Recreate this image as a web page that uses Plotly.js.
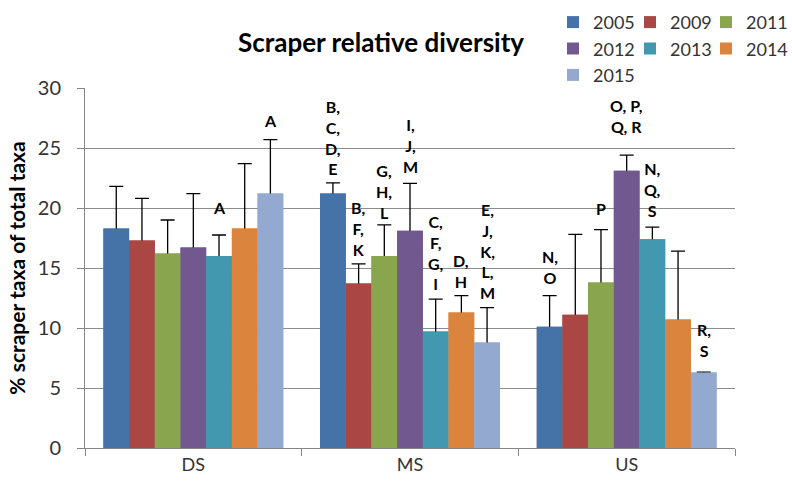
<!DOCTYPE html>
<html>
<head>
<meta charset="utf-8">
<script src="https://cdn.plot.ly/plotly-3.0.1.min.js"></script>
<style>html,body{margin:0;padding:0;background:#fff;}#chart{width:792px;height:487px;}</style>
</head>
<body>
<div id="chart"></div>
<script>
// ---- data ----
var categories = ['DS', 'MS', 'US'];
var years = ['2005', '2009', '2011', '2012', '2013', '2014', '2015'];
var v2005 = [18.3, 21.2, 10.1];
var v2009 = [17.3, 13.7, 11.1];
var v2011 = [16.2, 16.0, 13.8];
var v2012 = [16.7, 18.1, 23.1];
var v2013 = [16.0, 9.7, 17.4];
var v2014 = [18.3, 11.3, 10.7];
var v2015 = [21.2, 8.8, 6.3];
var e2005 = [3.5, 0.9, 2.6];
var e2009 = [3.5, 1.65, 6.7];
var e2011 = [2.8, 2.6, 4.4];
var e2012 = [4.5, 3.95, 1.3];
var e2013 = [1.75, 2.7, 1.0];
var e2014 = [5.4, 1.4, 5.7];
var e2015 = [4.5, 2.9, 0.02];
var l2005 = ['', 'B,<br>C,<br>D,<br>E', 'N,<br>O'];
var l2009 = ['', 'B,<br>F,<br>K', ''];
var l2011 = ['', 'G,<br>H,<br>L', 'P'];
var l2012 = ['', 'I,<br>J,<br>M', 'O, P,<br>Q, R'];
var l2013 = ['A', 'C,<br>F,<br>G,<br>I', 'N,<br>Q,<br>S'];
var l2014 = ['', 'D,<br>H', ''];
var l2015 = ['A', 'E,<br>J,<br>K,<br>L,<br>M', 'R,<br>S'];

// ---- styles / layout helpers ----
var values = [v2005, v2009, v2011, v2012, v2013, v2014, v2015];
var errors = [e2005, e2009, e2011, e2012, e2013, e2014, e2015];
var letters = [l2005, l2009, l2011, l2012, l2013, l2014, l2015];
var colors = ['#4572A7', '#AA4643', '#89A54E', '#71588F', '#4198AF', '#DB843D', '#93A9CF'];
var legendIds = ['legend', 'legend2', 'legend3', 'legend', 'legend2', 'legend3', 'legend'];
// extra pixel lift of each letter label above its error cap
var labelLift = [
  [0, 3, 7], [0, 3, 0], [0, 1, 10], [0, 5, 17], [16, 4, 5], [0, 3, 0], [8, 4, 10]
];
var bargap = 0.17;
var FONT = 'Lato, "Open Sans", sans-serif';

var traces = [];
years.forEach(function (yr, k) {
  traces.push({
    type: 'bar', name: yr, x: categories, y: values[k],
    xaxis: 'x', yaxis: 'y',
    marker: {color: colors[k], line: {width: 0}},
    legend: legendIds[k],
    error_y: {type: 'data', symmetric: false, array: errors[k],
      arrayminus: values[k].map(function () { return 0.15; }),
      color: '#000', thickness: 1.3, width: 7},
    hoverinfo: 'skip'
  });
});
// cover bars (overlay) hide the lower cap of the error bars
years.forEach(function (yr, k) {
  traces.push({
    type: 'bar', name: yr, x: categories, y: values[k],
    xaxis: 'x2', yaxis: 'y',
    marker: {color: colors[k], line: {width: 0}},
    showlegend: false, hoverinfo: 'skip'
  });
});

var nT = years.length;
var w = (1 - bargap) / nT;
var annotations = [];
years.forEach(function (yr, k) {
  categories.forEach(function (c, i) {
    var txt = letters[k][i];
    if (!txt) return;
    annotations.push({
      x: i - (1 - bargap) / 2 + w * (k + 0.5), xref: 'x',
      y: values[k][i] + errors[k][i], yref: 'y',
      text: txt, showarrow: false, xanchor: 'center', yanchor: 'bottom',
      yshift: labelLift[k][i],
      font: {family: FONT, size: 16, color: '#000', weight: 'bold'}
    });
  });
});

var legendBase = {
  orientation: 'v', xref: 'container', yref: 'container',
  xanchor: 'left', yanchor: 'top', y: 0.992,
  font: {family: FONT, size: 18, color: '#333'},
  bgcolor: 'rgba(0,0,0,0)', borderwidth: 0, itemwidth: 30
};
function legendAt(px) {
  var o = JSON.parse(JSON.stringify(legendBase));
  o.x = px / 792;
  return o;
}

var layout = {
  width: 792, height: 487,
  margin: {l: 85, r: 57, t: 88, b: 39, pad: 0, autoexpand: false},
  paper_bgcolor: '#fff', plot_bgcolor: '#fff',
  font: {family: FONT, color: '#333'},
  barmode: 'group', bargap: bargap, bargroupgap: 0,
  showlegend: true,
  title: {
    text: '<b>Scraper relative diversity</b>',
    font: {family: FONT, size: 26, color: '#000'},
    x: 381 / 792, xref: 'container', xanchor: 'center',
    y: 1 - 43 / 487, yref: 'container', yanchor: 'middle'
  },
  xaxis: {
    type: 'category', range: [-0.5, 2.5],
    showline: true, linecolor: '#868686', linewidth: 1,
    ticks: 'outside', tickson: 'boundaries', ticklen: 7, tickcolor: '#868686',
    showgrid: false, zeroline: false,
    tickfont: {family: FONT, size: 18, color: '#333'}
  },
  xaxis2: {
    type: 'category', range: [-0.5, 2.5], overlaying: 'x', visible: false
  },
  yaxis: {
    range: [0, 30], dtick: 5, tick0: 0,
    showline: true, linecolor: '#868686', linewidth: 1,
    ticks: 'outside', ticklen: 7, tickcolor: '#868686',
    ticklabelstandoff: 12,
    showgrid: true, gridcolor: '#8c8c8c', gridwidth: 1,
    zeroline: false,
    tickfont: {family: FONT, size: 20, color: '#333'},
    title: {text: '<b>% scraper taxa of total taxa</b>', standoff: 6,
      font: {family: FONT, size: 21, color: '#000'}}
  },
  legend: legendAt(553),
  legend2: legendAt(630),
  legend3: legendAt(706),
  annotations: annotations
};

Plotly.newPlot('chart', traces, layout, {displayModeBar: false, staticPlot: true});
</script>
</body>
</html>
